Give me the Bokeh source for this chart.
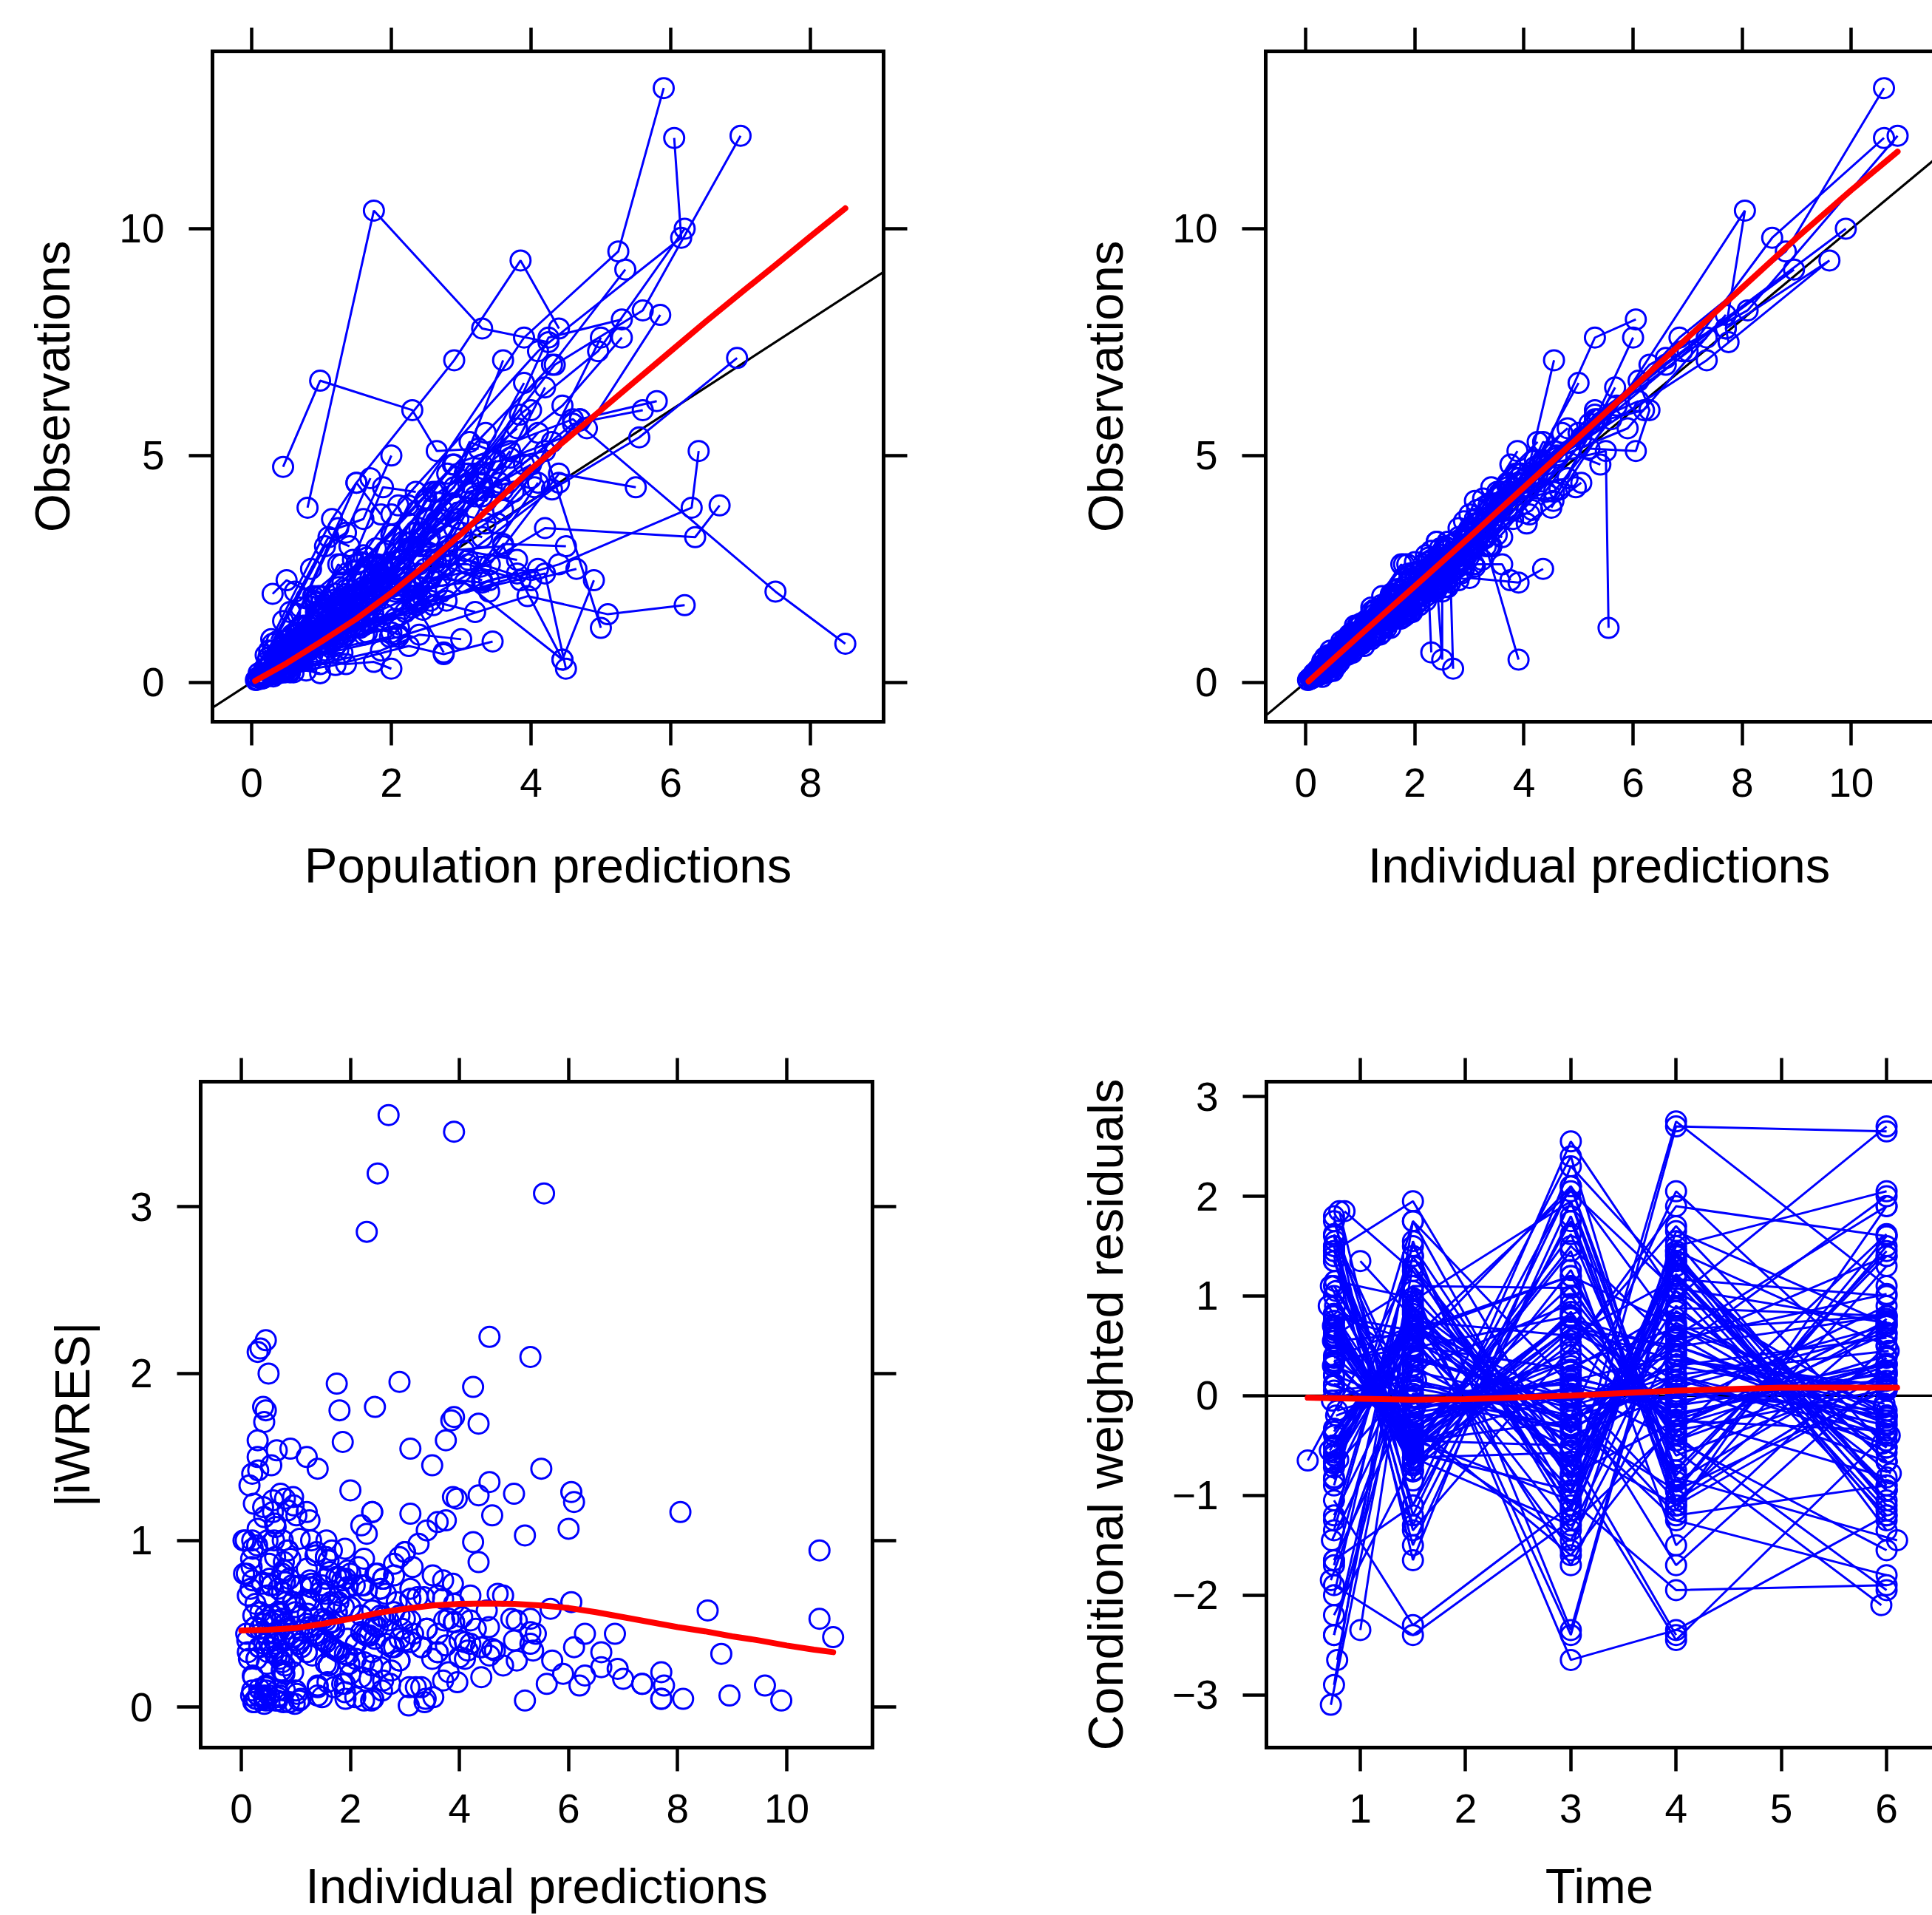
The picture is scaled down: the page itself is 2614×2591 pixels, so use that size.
from bokeh.plotting import figure
from bokeh.layouts import column, row
from bokeh.models import Range1d, LinearAxis, FixedTicker, Slope, Span
from bokeh.embed import file_html
from bokeh.resources import INLINE

# ---------------- data (one sub-list per subject, in time order) ----------------
TIME = [
    [0.75, 1.5, 3, 4, 6], [0.73, 1.5, 3, 4, 6], [0.75, 1.52, 3, 4, 6], [0.77, 1.5, 3, 4, 6],
    [0.75, 1.48, 3, 4, 6.02], [0.72, 1.5, 3, 4, 6], [0.75, 1.5, 3, 4, 5.97], [0.78, 1.5, 3, 4, 6],
    [0.75, 1.53, 3, 4, 6], [0.74, 1.5, 3, 4, 6], [0.75, 1.5, 3, 4, 6], [0.76, 1.47, 3, 4, 6],
    [0.75, 1.5, 3, 4, 6.03], [0.73, 1.5, 3, 4, 6], [0.75, 1.5, 3, 4, 6], [0.77, 1.5, 3, 4, 5.98],
    [0.75, 1.5, 3, 4, 6], [0.75, 1.54, 3, 4, 6], [0.74, 1.5, 3, 4, 6], [0.75, 1.5, 3, 4, 6],
    [0.75, 1.5, 3, 4, 6], [0.75, 1.5, 3, 4, 6], [0.75, 1.5, 3, 4], [0.75, 1.5, 3, 4, 6],
    [0.75, 1.5, 3, 4, 5.95], [0.75, 1.5, 3, 4, 6], [0.75, 1.5, 3, 4], [0.75, 1.5, 3, 4, 6],
    [0.75, 1.5, 3, 4, 6], [0.75, 1.5, 3, 4, 6], [0.75, 1.5, 3, 4, 6], [0.75, 1.5, 3, 4, 6],
    [0.75, 1.5, 3, 4, 6], [0.75, 1.5, 3, 4, 6], [0.75, 1.5, 3, 4, 6], [0.75, 1.5, 3, 4, 6],
    [0.75, 1.5, 3, 4, 6], [0.75, 1.5, 3, 4, 6], [0.75, 1.5, 3, 4, 6], [0.75, 1.5, 3, 4, 6],
    [0.75, 1.5, 3, 4, 6], [0.75, 1.5, 3, 4, 6], [0.75, 1.5, 3, 4, 6], [0.75, 1.5, 3, 4, 6],
    [0.75, 1.5, 3, 4, 6], [0.75, 1.5, 3, 4, 6], [0.72, 1.5, 3, 4, 6], [0.75, 1.5, 3, 4, 6],
    [0.8, 1.5, 3, 4, 6], [0.78, 1.5, 3, 4, 6], [0.75, 1.5, 3, 4, 6], [0.75, 1.5, 3, 6],
    [0.75, 1.5, 4, 6], [0.75, 3, 4, 6], [0.75, 1.5, 3, 4, 6], [0.75, 1.5, 3, 4, 6],
    [0.75, 1.5, 3, 4, 6], [0.75, 1.5, 3, 4, 6], [0.85, 1.5, 3, 4, 6], [1.0, 1.5, 3, 4, 6],
    [1.0, 3, 4, 6], [0.5, 1.5, 3, 4, 6], [0.75, 1.5, 3, 4, 6.1], [0.75, 1.5, 3, 4, 6],
    [0.75, 1.5, 3, 4, 6], [0.75, 1.5, 3, 4, 6], [0.75, 1.5, 3, 4, 6], [0.75, 1.5, 3, 4, 6],
    [0.75, 1.5, 3, 4, 6], [0.75, 1.5, 3, 4, 6], [0.75, 1.5, 3, 4, 6], [0.75, 1.5, 3, 4, 6],
    [0.75, 1.5, 3, 4, 6], [0.75, 1.5, 3, 4, 6], [0.75, 1.5, 3, 4, 6], [0.75, 1.5, 3, 4, 6],
    [0.75, 1.5, 3, 4, 6], [0.75, 1.5, 3, 4, 6], [0.75, 1.5, 3, 4, 6],
    [0.7, 1.5, 3, 4, 6], [0.75, 1.46, 3, 4, 6], [0.72, 1.5, 3, 4, 6], [0.76, 1.5, 3, 4, 6],
    [0.75, 1.5, 3, 4, 6], [0.75, 1.5, 3, 4, 6], [0.75, 1.5, 3, 4, 6], [0.79, 1.5, 3, 4, 6],
    [0.75, 1.5, 3, 4, 6], [0.75, 1.5, 3, 4, 6], [0.75, 1.5, 3, 4, 6],
    [0.74, 1.5, 3, 4, 6], [0.75, 1.51, 3, 4, 6], [0.71, 1.5, 3, 4, 6.04], [0.75, 1.49, 3, 4, 6],
    [0.76, 1.5, 3, 4, 5.96],
]
PRED = [
    [0.12, 0.26, 0.50, 0.64, 0.80], [0.15, 0.33, 0.62, 0.80, 1.00], [0.18, 0.40, 0.74, 0.96, 1.20],
    [0.22, 0.50, 0.93, 1.20, 1.50], [0.27, 0.59, 1.12, 1.44, 1.80], [0.30, 0.66, 1.24, 1.60, 2.00],
    [0.33, 0.73, 1.36, 1.76, 2.20], [0.37, 0.82, 1.55, 2.00, 2.50], [0.42, 0.92, 1.74, 2.24, 2.80],
    [0.45, 0.99, 1.86, 2.40, 3.00], [0.48, 1.06, 1.98, 2.56, 3.20], [0.52, 1.16, 2.17, 2.80, 3.50],
    [0.57, 1.25, 2.36, 3.04, 3.80], [0.60, 1.32, 2.48, 3.20, 4.00], [0.63, 1.39, 2.60, 3.36, 4.20],
    [0.68, 1.49, 2.79, 3.60, 4.50], [0.75, 1.65, 3.10, 4.00, 5.00], [0.82, 1.82, 3.41, 4.40, 5.50],
    [0.93, 2.05, 3.84, 4.96, 6.20], [1.05, 2.31, 4.34, 5.60, 7.00], [0.90, 2.00, 3.90, 5.25, 5.90],
    [1.00, 2.10, 4.10, 6.15, 6.05], [0.80, 1.75, 3.30, 4.25], [0.45, 0.98, 2.30, 2.65, 3.25],
    [0.68, 1.48, 2.80, 3.60, 4.45], [0.80, 1.70, 3.30, 4.20, 5.00], [1.10, 2.40, 4.20, 4.50],
    [0.72, 1.60, 3.05, 4.45, 4.90], [0.40, 0.90, 1.70, 2.20, 2.75], [0.33, 0.72, 1.35, 1.75, 2.00],
    [0.15, 0.32, 0.60, 0.78, 0.98], [0.55, 1.20, 2.25, 2.75, 3.45], [0.60, 1.30, 2.45, 3.40, 3.80],
    [0.75, 1.65, 3.10, 4.00, 4.65], [1.05, 2.30, 4.40, 6.30, 6.40], [1.00, 2.20, 4.20, 6.35, 6.70],
    [1.30, 2.90, 4.60, 7.50, 8.50], [0.95, 2.10, 3.95, 5.10, 6.20], [0.90, 1.95, 3.70, 4.80, 5.85],
    [0.85, 1.90, 3.55, 4.60, 5.60], [0.88, 1.92, 3.60, 4.70, 5.80], [0.80, 1.78, 3.35, 4.30, 5.35],
    [0.70, 1.50, 2.90, 3.85, 4.40], [0.85, 1.85, 3.45, 4.45, 5.30], [1.05, 2.30, 4.30, 5.55, 6.95],
    [0.70, 1.55, 2.90, 3.75, 4.70], [0.20, 0.43, 0.80, 1.04, 1.30], [0.36, 0.79, 1.49, 1.92, 2.40],
    [0.24, 0.53, 0.99, 1.28, 1.60], [0.50, 1.09, 2.05, 2.64, 3.30], [0.39, 0.86, 1.61, 2.08, 2.60],
    [0.28, 0.63, 1.18, 1.90], [0.54, 1.19, 2.88, 3.60], [0.44, 1.80, 2.32, 2.90],
    [0.31, 0.69, 1.30, 1.68, 2.10], [0.61, 1.35, 2.54, 3.28, 4.10], [0.16, 0.36, 0.68, 0.88, 1.10],
    [0.58, 1.29, 2.42, 3.12, 3.90], [0.38, 0.76, 1.43, 1.84, 2.30], [0.54, 0.89, 1.67, 2.16, 2.70],
    [0.34, 1.05, 1.36, 1.70], [0.34, 1.12, 2.11, 2.72, 3.40], [0.66, 1.45, 2.73, 3.52, 4.40],
    [0.30, 0.66, 1.24, 1.60, 2.00], [0.46, 1.02, 1.92, 2.48, 3.10], [0.64, 1.42, 2.66, 3.44, 4.30],
    [0.55, 1.22, 2.29, 2.96, 3.70], [0.21, 0.46, 0.87, 1.12, 1.40], [0.37, 0.82, 1.55, 2.00, 2.50],
    [0.49, 1.09, 2.05, 2.64, 3.30], [0.18, 0.40, 0.74, 0.96, 1.20], [0.42, 0.92, 1.74, 2.24, 2.80],
    [0.60, 1.32, 2.50, 3.20, 4.00], [0.58, 1.28, 2.40, 3.10, 3.90], [0.62, 1.35, 2.55, 3.30, 4.10],
    [0.57, 1.25, 2.35, 3.05, 3.80], [0.63, 1.38, 2.60, 3.35, 4.05], [0.55, 1.20, 2.25, 2.90, 3.60],
    [0.80, 1.75, 3.30, 4.25, 5.30],
    [0.08, 0.17, 0.32, 0.41, 0.52], [0.10, 0.22, 0.41, 0.53, 0.66], [0.06, 0.14, 0.26, 0.34, 0.42],
    [0.13, 0.28, 0.53, 0.68, 0.85], [0.09, 0.20, 0.37, 0.48, 0.60], [0.30, 0.66, 1.24, 1.60, 2.00],
    [0.25, 0.55, 1.05, 1.35, 1.70], [0.35, 0.78, 1.45, 1.88, 2.35], [0.40, 0.88, 1.65, 2.15, 2.65],
    [0.62, 1.36, 2.55, 3.30, 4.10], [0.58, 1.28, 2.40, 3.10, 3.85],
    [0.20, 0.45, 0.85, 1.10, 1.40], [0.28, 0.62, 1.15, 1.50, 1.85], [0.33, 0.72, 1.35, 1.75, 2.20],
    [0.45, 0.98, 1.85, 2.40, 3.00], [0.30, 0.50, 0.95, 1.25, 1.55],
]
IPRED = [
    [0.11, 0.27, 0.52, 0.66, 0.78], [0.21, 0.45, 0.82, 1.02, 1.25], [0.14, 0.31, 0.60, 0.77, 0.95],
    [0.38, 0.80, 1.48, 1.90, 2.35], [0.30, 0.66, 1.22, 1.58, 1.95], [0.21, 0.47, 0.88, 1.12, 1.40],
    [0.42, 0.92, 1.70, 2.20, 2.75], [0.33, 0.74, 1.40, 1.80, 2.25], [0.63, 1.38, 2.60, 3.35, 4.20],
    [0.46, 0.98, 1.90, 2.42, 2.95], [0.29, 0.64, 1.19, 1.54, 1.92], [0.63, 1.40, 2.60, 3.36, 4.20],
    [0.48, 1.06, 2.00, 2.58, 3.23], [0.66, 1.45, 2.73, 3.52, 4.40], [0.85, 1.88, 3.51, 4.54, 5.67],
    [0.51, 1.12, 2.09, 2.70, 3.38], [0.90, 1.98, 3.72, 4.80, 6.00], [0.74, 1.64, 3.07, 3.96, 4.95],
    [1.30, 2.80, 5.30, 6.90, 9.90], [1.55, 3.40, 6.30, 8.10, 10.85], [1.60, 3.50, 6.85, 8.80, 10.60],
    [1.70, 3.60, 7.00, 8.55, 10.60], [4.50, 8.05, 7.70, 7.75], [4.20, 6.10, 6.30, 6.05, 5.20],
    [0.62, 1.35, 2.55, 3.30, 3.90], [1.05, 2.30, 4.40, 5.50, 5.55], [0.90, 1.95, 2.65, 2.70],
    [0.80, 1.70, 2.50, 2.50, 2.40], [0.50, 1.10, 1.95, 2.25, 2.30], [0.25, 0.42, 0.48, 0.42, 0.33],
    [0.10, 0.18, 0.25, 0.24, 0.21], [0.20, 0.42, 0.70, 0.75, 0.80], [0.45, 1.00, 1.85, 2.35, 2.55],
    [0.55, 1.25, 2.30, 2.60, 2.90], [0.70, 1.50, 2.90, 3.70, 4.55], [0.80, 1.70, 3.10, 3.30, 3.60],
    [2.40, 4.30, 5.30, 2.50, 1.00], [0.55, 1.10, 1.65, 1.75, 1.60], [1.10, 2.45, 4.60, 5.90, 7.70],
    [0.95, 2.10, 3.90, 5.20, 6.20], [1.00, 2.20, 4.15, 5.35, 6.10], [1.20, 2.60, 5.00, 6.60, 8.95],
    [1.80, 3.90, 7.35, 9.60, 7.70], [1.05, 2.30, 4.35, 5.70, 7.35], [0.95, 2.10, 3.95, 5.05, 6.60],
    [0.85, 1.90, 3.50, 4.55, 5.60], [0.30, 0.55, 0.90, 1.10, 1.25], [0.45, 0.95, 1.80, 2.30, 2.85],
    [0.35, 0.75, 1.40, 1.78, 2.20], [0.55, 1.20, 2.25, 2.90, 3.60], [0.31, 0.68, 1.29, 1.66, 2.08],
    [0.30, 0.62, 1.20, 1.85], [0.72, 1.55, 3.75, 4.65], [0.40, 1.75, 2.20, 2.80],
    [0.20, 0.45, 0.85, 1.09, 1.36], [0.58, 1.28, 2.40, 3.10, 3.90], [0.30, 0.65, 1.20, 1.55, 1.95],
    [0.80, 1.80, 3.40, 4.35, 5.40], [0.42, 0.85, 1.55, 2.00, 2.55], [0.50, 0.80, 1.50, 1.95, 2.45],
    [0.40, 1.25, 1.62, 2.00], [0.22, 0.78, 1.48, 1.90, 2.38], [0.76, 1.66, 3.14, 4.05, 5.05],
    [0.45, 0.99, 1.86, 2.40, 3.00], [0.58, 1.28, 2.40, 3.10, 3.88], [0.62, 1.38, 2.60, 3.40, 4.25],
    [0.58, 1.28, 2.40, 3.10, 3.88], [0.19, 0.42, 0.78, 1.00, 1.26], [0.48, 1.07, 2.00, 2.60, 3.25],
    [0.42, 0.93, 1.74, 2.24, 2.80], [0.23, 0.51, 0.96, 1.25, 1.56], [0.46, 1.01, 1.91, 2.46, 3.08],
    [0.80, 1.75, 3.30, 4.25, 5.30], [0.75, 1.65, 3.10, 4.00, 5.00], [0.70, 1.55, 2.90, 3.75, 4.70],
    [0.72, 1.60, 3.00, 3.85, 4.80], [0.60, 1.30, 2.45, 3.15, 3.80], [0.75, 1.65, 3.10, 4.00, 4.55],
    [1.00, 2.20, 4.10, 5.30, 6.05],
    [0.05, 0.12, 0.22, 0.28, 0.35], [0.15, 0.33, 0.60, 0.78, 0.95], [0.04, 0.09, 0.17, 0.22, 0.28],
    [0.08, 0.18, 0.34, 0.44, 0.55], [0.12, 0.26, 0.49, 0.63, 0.79], [0.75, 1.60, 3.00, 3.80, 4.60],
    [0.65, 1.40, 2.55, 3.20, 3.90], [0.70, 1.55, 2.90, 3.70, 4.40], [0.55, 1.20, 2.25, 2.90, 3.60],
    [0.70, 1.55, 3.00, 3.90, 4.35], [0.65, 1.45, 2.75, 3.60, 3.75],
    [0.55, 1.20, 2.20, 2.80, 3.40], [0.80, 1.75, 3.10, 3.70, 4.10], [0.40, 0.88, 1.65, 2.15, 2.65],
    [0.20, 0.45, 0.80, 0.95, 1.05], [1.60, 2.10, 2.20, 2.00, 1.70],
]
OBS = [
    [0.12, 0.26, 0.62, 0.56, 0.82], [0.16, 0.52, 0.95, 0.84, 1.40], [0.15, 0.25, 0.66, 0.83, 0.80],
    [0.45, 0.72, 1.75, 1.62, 2.60], [0.38, 0.60, 1.05, 1.90, 2.10], [0.17, 0.50, 0.72, 1.25, 1.10],
    [0.50, 0.85, 2.05, 2.45, 2.50], [0.28, 0.80, 1.20, 2.10, 2.00], [0.70, 1.55, 2.30, 3.90, 4.60],
    [0.52, 0.88, 2.25, 2.10, 3.30], [0.22, 0.70, 1.00, 1.80, 1.55], [0.80, 1.25, 3.10, 3.00, 4.90],
    [0.40, 1.15, 1.70, 2.90, 2.70], [0.62, 1.70, 2.50, 4.10, 4.80], [1.05, 1.60, 4.20, 4.00, 6.50],
    [0.45, 1.25, 1.80, 3.05, 3.00], [1.10, 1.85, 4.20, 4.50, 7.60], [0.70, 1.90, 2.60, 4.60, 4.30],
    [1.45, 2.55, 5.90, 7.30, 10.00], [1.70, 3.00, 7.00, 8.20, 12.05], [1.80, 3.25, 7.60, 9.50, 13.10],
    [1.55, 3.90, 7.30, 9.80, 12.00], [3.85, 10.40, 7.80, 7.50], [4.75, 6.65, 6.00, 5.10, 5.15],
    [0.70, 1.20, 2.90, 3.00, 0.50], [1.15, 2.05, 4.80, 5.10, 1.20], [1.00, 1.75, 2.40, 0.30],
    [0.85, 1.90, 2.20, 0.50, 2.25], [0.55, 1.30, 2.30, 2.10, 0.66], [0.22, 0.48, 0.40, 0.45, 0.30],
    [0.08, 0.21, 0.22, 0.26, 0.20], [0.22, 0.38, 0.80, 0.62, 0.90], [0.40, 1.15, 1.60, 2.25, 2.40],
    [0.65, 1.10, 2.70, 2.25, 2.50], [0.62, 1.65, 2.60, 3.85, 5.10], [0.88, 1.55, 3.40, 3.20, 3.90],
    [2.20, 4.80, 5.80, 2.00, 0.85], [0.60, 1.00, 1.90, 1.50, 1.70], [1.25, 2.20, 4.95, 5.60, 8.10],
    [1.00, 2.30, 4.40, 5.70, 6.00], [0.90, 2.45, 3.80, 5.80, 6.20], [1.10, 2.95, 5.50, 7.00, 9.10],
    [1.65, 4.40, 7.10, 9.30, 7.80], [0.95, 2.55, 4.90, 6.10, 7.60], [1.05, 1.90, 4.25, 5.40, 7.15],
    [0.95, 1.75, 3.95, 4.20, 5.80], [0.12, 0.65, 1.25, 0.95, 1.60], [0.25, 1.25, 1.45, 2.90, 2.40],
    [0.55, 0.60, 1.90, 1.50, 2.80], [0.35, 1.55, 2.00, 3.55, 3.20], [0.20, 0.80, 1.05, 2.05, 1.70],
    [0.46, 0.45, 1.65, 1.50], [0.95, 1.20, 4.80, 4.25], [0.22, 2.60, 1.80, 3.40],
    [0.13, 0.60, 0.65, 1.35, 1.05], [0.75, 1.05, 3.10, 2.55, 4.40], [0.18, 0.90, 0.95, 1.90, 1.55],
    [1.05, 2.60, 3.00, 5.30, 4.80], [0.60, 1.10, 1.35, 2.40, 2.10], [0.25, 0.95, 1.30, 2.30, 2.75],
    [0.52, 1.05, 1.95, 1.70], [0.18, 0.95, 1.20, 2.35, 2.00], [0.95, 1.45, 3.80, 3.50, 4.40],
    [0.70, 0.85, 2.60, 2.10, 3.70], [0.50, 1.60, 2.05, 4.00, 4.60], [0.48, 1.70, 2.10, 4.30, 5.30],
    [0.40, 1.05, 3.10, 3.60, 5.10], [0.15, 0.52, 0.62, 1.25, 1.50], [0.60, 0.80, 2.65, 2.10, 4.05],
    [0.30, 1.10, 1.40, 2.65, 2.25], [0.30, 0.40, 1.25, 1.05, 1.95], [0.38, 1.30, 1.55, 2.95, 2.60],
    [0.90, 1.60, 3.60, 4.60, 6.00], [0.70, 1.85, 3.40, 4.40, 6.60], [0.78, 1.45, 3.20, 4.10, 5.50],
    [0.62, 1.80, 3.30, 4.60, 5.60], [0.55, 1.40, 2.70, 3.50, 4.30], [0.85, 1.50, 3.50, 4.30, 7.10],
    [1.10, 2.10, 4.40, 7.60, 8.00],
    [0.06, 0.10, 0.25, 0.26, 0.40], [0.20, 0.30, 0.75, 0.70, 1.10], [0.05, 0.08, 0.20, 0.21, 0.30],
    [0.10, 0.22, 0.30, 0.50, 0.48], [0.11, 0.30, 0.45, 0.70, 0.75], [0.85, 1.50, 3.40, 3.60, 5.00],
    [0.70, 1.55, 3.00, 3.30, 4.50], [0.60, 1.85, 2.70, 4.30, 4.20], [0.65, 1.10, 2.75, 2.70, 4.20],
    [0.75, 1.40, 2.30, 2.20, 2.50], [0.70, 1.30, 2.60, 2.60, 2.25],
    [0.60, 1.35, 2.50, 3.20, 3.00], [0.95, 2.00, 3.60, 4.40, 3.70], [0.35, 1.05, 1.40, 2.60, 2.20],
    [0.25, 0.40, 0.70, 1.05, 0.95], [1.95, 2.25, 1.90, 2.10, 1.50],
]
CWRES = [
    [0.12, -0.31, 0.35, -0.18, 0.24], [-1.45, 0.25, 0.92, -0.35, 0.06], [0.21, -0.12, 0.15, 0.40, -0.25],
    [1.05, -0.22, 0.08, -0.45, 0.30], [1.62, -0.05, -0.33, 0.21, 0.45], [-1.85, 0.38, -0.10, 0.20, -0.30],
    [0.20, -0.40, 0.30, 0.68, -0.12], [-0.15, 0.08, -0.22, 0.10, -0.66], [0.05, 0.15, -0.20, 0.30, 0.58],
    [0.30, -0.02, 0.12, -0.10, 0.22], [-2.40, 0.55, -0.98, 1.05, -1.20], [1.55, -0.15, 0.18, -0.06, 0.32],
    [-1.65, 0.02, -0.32, 0.16, -0.40], [-0.05, 0.25, -0.12, 0.00, 0.15], [0.40, -0.30, 0.20, -0.12, 0.90],
    [-0.20, 0.10, -0.05, 0.30, -0.08], [1.35, -0.40, 0.78, -0.38, 1.62], [-0.33, 0.35, -0.02, 0.08, -0.20],
    [0.70, -0.55, 0.68, 0.35, 0.05], [0.58, -0.70, 0.66, 0.08, 0.63], [0.75, -0.45, 0.68, 0.50, 1.40],
    [-0.52, 0.50, 0.26, 0.88, 0.80], [-0.90, 1.75, 0.10, -0.20], [0.80, 0.55, -0.30, -0.95, 0.06],
    [0.80, -0.68, 0.84, -0.55, -2.10], [0.55, -0.65, 0.52, -0.45, -1.55], [0.66, -0.62, -0.57, -2.40],
    [0.38, 0.70, -0.72, -2.45, -0.38], [0.60, 1.10, 1.08, -0.40, -1.95], [-0.72, 0.16, -0.40, 0.02, -0.15],
    [-1.20, 0.40, -0.10, 0.50, -0.28], [0.10, -0.17, 0.06, -1.05, 0.25], [-0.66, 0.90, -0.80, -0.25, -0.35],
    [1.10, -0.12, 0.35, -0.20, -0.82], [-0.68, 0.60, -1.55, 1.65, 0.72], [0.60, -0.53, 1.45, -1.50, 0.50],
    [-0.50, 0.70, -0.05, -1.20, -0.90], [0.55, -0.55, 1.62, -0.86, 0.38], [0.82, -0.62, -1.30, -0.30, 0.32],
    [0.32, 0.57, 2.05, 1.05, -0.20], [-0.60, 0.68, -0.51, -1.10, 0.10], [-0.50, 0.82, -1.70, 0.36, 0.10],
    [-0.50, 0.77, -0.21, 2.05, 0.08], [-0.57, 0.65, 1.20, -0.60, 0.21], [0.63, -0.57, -0.95, 1.45, 0.50],
    [0.70, -0.48, 0.02, -1.70, 0.21], [-3.10, 0.95, 1.95, -0.80, 1.45], [-2.90, 1.75, -1.10, 1.55, -0.95],
    [1.85, -1.20, 2.10, -0.95, 1.60], [-2.65, 1.30, -0.66, 1.35, -0.66], [-2.40, 1.05, -2.40, 1.40, -1.10],
    [1.80, -1.65, 2.30, -1.15], [1.60, -1.35, 1.70, -0.52], [-2.20, 2.40, -1.10, 1.30],
    [-2.00, 1.55, -2.35, 1.45, -1.35], [1.50, -1.10, 1.75, -1.05, 0.77], [-1.90, -2.40, -1.25, 1.35, -1.25],
    [1.45, 1.95, -0.70, 1.30, -0.66], [1.85, 1.25, -0.78, 1.20, -1.05], [-2.35, 1.10, -0.80, 1.08, 0.73],
    [1.35, -0.95, 1.22, -0.90], [-0.65, 1.30, -1.15, 1.42, -0.95], [1.35, -0.76, 1.26, -0.82, -1.45],
    [1.75, -0.85, 2.10, -0.75, 1.40], [-0.82, 1.50, -0.87, 2.75, 1.10], [-1.35, 1.40, -1.15, 2.70, 2.65],
    [-1.65, -1.10, 2.55, 0.98, 2.70], [-1.25, 1.40, -1.25, 1.50, 2.05], [1.40, -1.50, 1.95, -1.15, 1.90],
    [-1.70, 1.10, -2.65, -2.35, -1.20], [1.50, -1.30, 1.80, -0.96, 1.50], [-1.05, -2.30, -1.10, 1.20, -0.95],
    [0.75, -0.51, 1.50, 0.49, 0.80], [-0.40, 0.72, -0.30, 0.60, 1.90], [0.68, -0.39, -1.45, 0.56, 1.02],
    [-0.84, 0.75, 0.60, 1.17, 1.00], [-0.50, 0.46, 2.10, 0.66, 0.80], [0.80, -0.54, 0.78, 0.45, 2.00],
    [0.60, -0.27, 0.44, 1.90, 1.60],
    [0.90, -0.75, 0.60, -0.30, 0.62], [1.45, -0.40, 1.10, -0.45, 0.70], [1.10, -0.50, 0.80, -0.20, 0.32],
    [1.15, 0.98, -0.52, 0.60, -0.57], [-0.36, 0.70, -0.37, 0.50, -0.22], [0.60, -0.28, -1.60, -0.24, 0.40],
    [0.35, 0.48, 0.80, 0.14, 0.70], [-0.64, 0.87, -0.31, 0.73, -0.20], [0.82, -0.37, 1.00, -0.31, 0.75],
    [0.33, -0.44, -1.05, -1.95, -1.90], [0.35, -0.46, -0.25, -1.25, -1.80],
    [0.55, 0.62, 1.20, 0.70, -0.52], [0.80, 0.65, -1.35, 0.85, -0.45], [-0.55, 0.85, -0.70, 0.90, -0.78],
    [1.00, -0.45, -0.50, 0.42, -0.38], [0.90, 0.30, -0.55, 0.20, -0.48],
]
ABS_IWRES = [
    [0.40, 0.05, 0.77, 0.10, 0.21], [0.95, 0.12, 0.63, 0.08, 0.48], [0.29, 0.07, 0.40, 0.03, 0.63],
    [0.74, 0.10, 0.73, 0.09, 0.43], [1.07, 0.06, 0.56, 0.15, 0.31], [0.76, 0.26, 0.03, 0.46, 0.12],
    [0.06, 0.30, 0.12, 0.45, 0.36], [0.11, 0.32, 0.07, 0.67, 0.04], [0.04, 0.49, 0.16, 0.66, 0.38],
    [0.52, 0.02, 0.14, 0.05, 0.47], [0.97, 0.38, 0.64, 0.68, 0.77], [1.08, 0.13, 0.77, 0.03, 0.67],
    [0.67, 0.04, 0.60, 0.10, 0.66], [0.04, 0.69, 0.14, 0.06, 0.36], [0.94, 0.60, 0.79, 0.48, 0.59],
    [0.07, 0.46, 0.06, 0.52, 0.05], [0.89, 0.26, 0.52, 0.25, 1.07], [0.22, 0.63, 0.01, 0.15, 0.53],
    [0.46, 0.36, 0.45, 0.23, 0.04], [0.39, 0.47, 0.44, 0.05, 0.42], [0.50, 0.29, 0.44, 0.32, 0.94],
    [0.35, 0.33, 0.17, 0.58, 0.53], [0.58, 1.17, 0.05, 0.13], [0.52, 0.36, 0.19, 0.63, 0.04],
    [0.52, 0.44, 0.55, 0.36, 3.45], [0.38, 0.43, 0.36, 1.43, 3.08], [0.44, 0.41, 0.38, 3.55],
    [0.25, 0.47, 0.48, 3.20, 0.25], [0.40, 0.73, 0.72, 0.27, 2.85], [0.48, 0.07, 0.67, 0.02, 0.36],
    [0.80, 0.07, 0.48, 0.03, 0.19], [0.10, 0.38, 0.07, 0.69, 0.50], [0.04, 0.60, 0.14, 0.17, 0.24],
    [0.73, 0.48, 0.70, 0.54, 0.55], [0.46, 0.40, 0.41, 0.16, 1.35], [0.40, 0.35, 1.55, 0.12, 0.33],
    [0.33, 0.47, 0.38, 0.80, 0.60], [0.36, 0.36, 0.61, 0.57, 0.25], [0.55, 0.41, 1.15, 0.20, 0.21],
    [0.21, 0.38, 0.51, 1.03, 0.13], [0.40, 0.45, 0.34, 0.34, 1.23], [0.33, 0.54, 0.40, 0.24, 0.07],
    [0.33, 0.51, 0.14, 0.13, 0.05], [0.38, 0.43, 1.27, 0.28, 0.14], [0.42, 0.38, 1.25, 0.28, 0.33],
    [0.47, 0.32, 1.45, 0.31, 0.14], [1.50, 0.73, 1.55, 0.55, 1.12], [1.78, 1.26, 0.78, 1.04, 0.63],
    [2.15, 0.80, 1.43, 0.63, 1.09], [1.45, 1.17, 0.44, 0.90, 0.44], [1.42, 0.71, 0.74, 0.94, 0.73],
    [2.13, 1.10, 1.50, 0.76], [1.28, 0.90, 1.12, 0.34], [1.80, 1.94, 0.73, 0.86],
    [1.40, 0.13, 0.94, 0.05, 0.91], [1.17, 0.72, 1.17, 0.71, 0.51], [1.60, 1.54, 0.83, 0.90, 0.82],
    [1.25, 1.78, 0.47, 0.87, 0.44], [1.71, 1.18, 0.52, 0.80, 0.71], [2.00, 0.75, 0.53, 0.72, 0.49],
    [1.20, 0.64, 0.81, 0.60], [0.03, 0.87, 0.06, 0.95, 0.04], [1.00, 0.51, 0.84, 0.54, 0.52],
    [2.20, 0.57, 1.59, 0.50, 0.93], [0.55, 1.00, 0.58, 1.16, 0.74], [0.90, 0.93, 0.77, 1.06, 0.99],
    [1.24, 0.72, 1.17, 0.65, 1.26], [0.84, 0.05, 0.82, 0.10, 0.76], [1.00, 1.01, 1.30, 0.77, 0.98],
    [1.14, 0.73, 0.78, 0.73, 0.79], [1.22, 0.86, 1.21, 0.64, 1.00], [0.10, 1.15, 0.05, 0.80, 0.12],
    [0.50, 0.34, 0.36, 1.92, 0.53], [0.27, 0.48, 0.39, 0.40, 1.28], [0.46, 0.26, 1.95, 0.37, 0.68],
    [0.56, 0.50, 0.40, 1.72, 0.67], [0.33, 0.31, 1.80, 0.44, 0.53], [0.53, 0.36, 0.52, 0.30, 2.22],
    [0.40, 0.18, 0.29, 2.10, 1.29],
    [0.80, 0.67, 0.55, 0.29, 0.57], [1.33, 0.36, 1.00, 0.41, 0.63], [1.00, 0.44, 0.71, 0.18, 0.29],
    [1.00, 0.89, 0.47, 0.55, 0.51], [0.33, 0.62, 0.33, 0.44, 0.20], [0.53, 0.25, 0.53, 0.21, 0.35],
    [0.31, 0.43, 0.71, 0.12, 0.62], [0.57, 0.77, 0.28, 0.65, 0.18], [0.73, 0.33, 0.89, 0.28, 0.67],
    [0.29, 0.39, 0.93, 1.74, 1.70], [0.31, 0.41, 0.22, 1.11, 1.60],
    [0.36, 0.50, 0.55, 0.57, 0.47], [0.75, 0.57, 0.65, 0.76, 0.39], [0.50, 0.77, 0.61, 0.84, 0.68],
    [1.00, 0.44, 0.50, 0.42, 0.38], [0.88, 0.29, 0.55, 0.20, 0.47],
]

# smooth (loess) curves
TL_SMOOTH_X = [0.05, 0.5, 1, 1.5, 2, 2.5, 3, 3.5, 4, 4.5, 5, 5.5, 6, 6.5, 7, 7.5, 8, 8.5]
TL_SMOOTH_Y = [0.03, 0.42, 0.9, 1.4, 1.97, 2.6, 3.27, 3.98, 4.7, 5.35, 6.0, 6.65, 7.3, 7.95, 8.58, 9.2, 9.83, 10.45]
TR_SMOOTH_X = [0.05, 1, 2, 3, 4, 5, 6, 7, 8, 9, 10, 10.85]
TR_SMOOTH_Y = [0.02, 1.05, 2.12, 3.2, 4.3, 5.4, 6.5, 7.6, 8.7, 9.8, 10.85, 11.7]
BL_SMOOTH_X = [0, 0.5, 1, 1.5, 2, 2.5, 3, 3.5, 4, 4.5, 5, 5.5, 6, 6.5, 7, 7.5, 8, 8.5, 9, 9.5, 10, 10.5, 10.85]
BL_SMOOTH_Y = [0.46, 0.465, 0.475, 0.50, 0.53, 0.565, 0.59, 0.61, 0.62, 0.622, 0.62, 0.61, 0.595,
               0.57, 0.54, 0.51, 0.48, 0.455, 0.425, 0.40, 0.37, 0.345, 0.33]
BR_SMOOTH_X = [0.5, 1, 1.5, 2, 3, 4, 5, 6.1]
BR_SMOOTH_Y = [-0.02, -0.03, -0.04, -0.035, 0.0, 0.05, 0.08, 0.08]

TICKS_TL_X = [0, 2, 4, 6, 8]
TICKS_OBS_Y = [0, 5, 10]
TICKS_IPRED_X = [0, 2, 4, 6, 8, 10]
TICKS_IWRES_Y = [0, 1, 2, 3]
TICKS_TIME_X = [1, 2, 3, 4, 5, 6]
TICKS_CWRES_Y = [-3, -2, -1, 0, 1, 2, 3]

# ---------------- helpers ----------------
FONT = "Liberation Sans"
BLUE = "#0000FF"
RED = "#FF0000"

SUBJ = []
for i in range(min(len(TIME), len(PRED), len(IPRED), len(OBS), len(CWRES), len(ABS_IWRES))):
    m = min(len(TIME[i]), len(PRED[i]), len(IPRED[i]), len(OBS[i]), len(CWRES[i]), len(ABS_IWRES[i]))
    SUBJ.append(dict(t=TIME[i][:m], pred=PRED[i][:m], ipred=IPRED[i][:m],
                     obs=OBS[i][:m], cw=CWRES[i][:m], iw=ABS_IWRES[i][:m]))


def flat(key):
    return [v for s in SUBJ for v in s[key]]


def style_axis(ax, ticks, labelled, standoff=0, label="", label_standoff=0):
    ax.ticker = FixedTicker(ticks=ticks)
    ax.axis_line_color = "black"
    ax.axis_line_width = 5
    ax.axis_line_cap = "square"
    ax.major_tick_line_color = "black"
    ax.major_tick_line_width = 4.5
    ax.major_tick_out = 32
    ax.major_tick_in = 0
    ax.minor_tick_line_color = None
    ax.major_label_text_font = FONT
    if labelled:
        ax.major_label_text_font_size = "55px"
        ax.major_label_text_color = "black"
        ax.major_label_standoff = standoff
    else:
        ax.major_label_text_font_size = "1px"
        ax.major_label_text_color = None
        ax.major_label_standoff = 0
    if label:
        ax.axis_label = label
        ax.axis_label_text_font = FONT
        ax.axis_label_text_font_size = "67px"
        ax.axis_label_text_font_style = "normal"
        ax.axis_label_text_color = "black"
        ax.axis_label_standoff = label_standoff


def panel(width, height, xr, yr, xticks, yticks, xlabel, ylabel, borders, right_axis, xls, yls):
    bl, br, bt, bb = borders
    p = figure(width=width, height=height, x_range=Range1d(*xr), y_range=Range1d(*yr),
               output_backend="svg", toolbar_location=None,
               min_border_left=bl, min_border_right=br, min_border_top=bt, min_border_bottom=bb)
    p.grid.visible = False
    p.outline_line_color = None
    p.background_fill_color = "white"
    p.border_fill_color = "white"
    style_axis(p.xaxis[0], xticks, True, 31, xlabel, xls)
    style_axis(p.yaxis[0], yticks, True, 33, ylabel, yls)
    top = LinearAxis()
    style_axis(top, xticks, False)
    p.add_layout(top, "above")
    if right_axis:
        ra = LinearAxis()
        style_axis(ra, yticks, False)
        p.add_layout(ra, "right")
    return p


def points(p, xkey, ykey, lines=True):
    if lines:
        p.multi_line(xs=[s[xkey] for s in SUBJ], ys=[s[ykey] for s in SUBJ],
                     line_color=BLUE, line_width=3.0)
    p.scatter(x=flat(xkey), y=flat(ykey), marker="circle", size=27,
              fill_color=None, line_color=BLUE, line_width=3.0)


# ---------------- panels ----------------
p1 = panel(1430, 1330, (-0.561, 9.048), (-0.869, 13.91), TICKS_TL_X, TICKS_OBS_Y,
           "Population predictions", "Observations", (287, 235, 69, 354), True, 52, 50)
p1.add_layout(Slope(gradient=1, y_intercept=0, line_color="black", line_width=3.2, level="underlay"))
points(p1, "pred", "obs")
p1.line(TL_SMOOTH_X, TL_SMOOTH_Y, line_color=RED, line_width=8, line_cap="round")

p2 = panel(1184, 1330, (-0.736, 11.487), (-0.869, 13.91), TICKS_IPRED_X, TICKS_OBS_Y,
           "Individual predictions", "Observations", (282, 0, 69, 354), False, 52, 50)
p2.add_layout(Slope(gradient=1, y_intercept=0, line_color="black", line_width=3.2, level="underlay"))
points(p2, "ipred", "obs")
p2.line(TR_SMOOTH_X, TR_SMOOTH_Y, line_color=RED, line_width=8, line_cap="round")

p3 = panel(1430, 1261, (-0.745, 11.572), (-0.242, 3.75), TICKS_IPRED_X, TICKS_IWRES_Y,
           "Individual predictions", "|iWRES|", (271, 250, 133, 221), True, 45, 38)
points(p3, "ipred", "iw", lines=False)
p3.line(BL_SMOOTH_X, BL_SMOOTH_Y, line_color=RED, line_width=8, line_cap="round")

p4 = panel(1184, 1261, (0.108, 6.435), (-3.529, 3.149), TICKS_TIME_X, TICKS_CWRES_Y,
           "Time", "Conditional weighted residuals", (283, 0, 133, 221), False, 45, 50)
p4.add_layout(Span(location=0, dimension="width", line_color="black", line_width=3.2, level="underlay"))
points(p4, "t", "cw")
p4.line(BR_SMOOTH_X, BR_SMOOTH_Y, line_color=RED, line_width=8, line_cap="round")

layout = column(row(p1, p2), row(p3, p4))
open("out.html", "w").write(file_html(layout, INLINE))
